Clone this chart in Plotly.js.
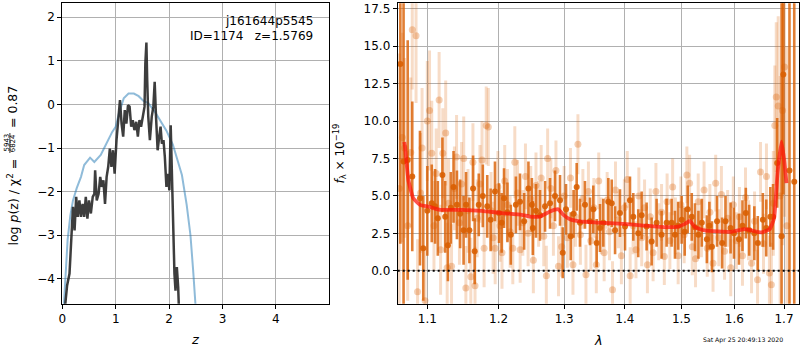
<!DOCTYPE html>
<html>
<head>
<meta charset="utf-8">
<script src="https://cdn.plot.ly/plotly-3.0.1.min.js"></script>
<style>html,body{margin:0;padding:0;background:#fff;}#chart{width:800px;height:350px;}</style>
</head>
<body>
<div id="chart"></div>
<script>
// ---------- left panel: redshift PDF ----------
const pzZ = [0.03,0.09,0.135,0.17,0.2,0.23,0.26,0.29,0.32,0.35,0.38,0.41,0.44,0.47,0.5,0.535,0.57,0.6,0.615,0.645,
  0.68,0.71,0.74,0.77,0.8,0.83,0.86,0.89,0.92,0.95,0.98,1.015,1.05,1.08,1.11,1.14,1.17,1.2,1.23,1.26,
  1.29,1.32,1.35,1.385,1.415,1.445,1.475,1.51,1.54,1.555,1.575,1.59,1.61,1.64,1.675,1.705,1.73,1.755,1.785,1.815,
  1.84,1.865,1.895,1.92,1.95,1.98,2.005,2.03,2.05,2.075,2.1,2.12,2.145,2.17,2.19];
const pzLog = [-4.9,-4.15,-3.88,-3.12,-2.35,-2.89,-2.12,-2.58,-2.2,-2.58,-2.28,-2.58,-2.12,-2.62,-2.2,-2.5,-2.12,-2.05,-1.51,-2.2,
  -2.05,-1.66,-1.89,-1.74,-2.28,-1.66,-1.43,-1.01,-1.43,-1.05,-1.59,-0.82,-0.21,0.1,-0.44,-0.74,-0.13,-0.44,-0.02,-0.05,
  -0.51,-0.36,-0.59,-0.4,-0.74,-0.36,-0.51,-0.28,-0.05,0.94,1.42,0.56,-0.28,-0.82,-0.28,-0.05,0.52,-0.28,-1.05,-0.74,
  -0.51,-0.9,-0.82,-1.2,-1.89,-1.59,-1.97,-0.48,-1.59,-2.97,-3.88,-4.27,-3.73,-4.19,-4.9];

const fitZ = [0.02,0.06,0.1,0.15,0.2,0.27,0.35,0.41,0.52,0.6,0.66,0.72,0.78,0.87,0.935,1.0,1.06,1.15,1.24,1.34,
  1.43,1.52,1.61,1.735,1.83,1.95,2.07,2.17,2.24,2.33,2.4,2.45,2.5];
const fitLog = [-4.8,-3.9,-3.1,-2.55,-2.2,-1.92,-1.66,-1.39,-1.22,-1.32,-1.24,-1.16,-1.01,-0.78,-0.63,-0.51,-0.21,0.14,0.25,0.25,
  0.19,0.08,0.03,-0.17,-0.36,-0.6,-0.92,-1.3,-1.62,-2.31,-3.0,-3.8,-4.7];

const zTicks = [0,1,2,3,4];
const fitLabel = ['j161644p5545', 'ID=1174\u00a0\u00a0\u00a0z=1.5769'];
const chi2Num = '5943', chi2Den = '6824', chi2Val = '0.87';

// ---------- right panel: spectrum ----------
const lamDark = [1.0644,1.0686,1.0740,1.0800,1.0902,1.0946,1.1000,1.1060,1.1105,1.1142,
  1.1205,1.1243,1.1280,1.1320,1.1358,1.1405,1.1450,1.1498,1.1533,1.1580,
  1.1632,1.1655,1.1713,1.1771,1.1835,1.1884,1.1947,1.2006,1.2045,1.2080,
  1.2130,1.2180,1.2256,1.2318,1.2380,1.2445,1.2497,1.2512,1.2560,1.2622,
  1.2700,1.2777,1.2855,1.2934,1.2977,1.3029,1.3104,1.3150,1.3200,1.3253,
  1.3334,1.3416,1.3470,1.3526,1.3581,1.3636,1.3720,1.3777,1.3833,1.3916,
  1.4002,1.4087,1.4144,1.4230,1.4289,1.4376,1.4464,1.4552,1.4641,1.4731,
  1.4821,1.4882,1.4940,1.5004,1.5060,1.5115,1.5190,1.5250,1.5314,1.5378,
  1.5473,1.5520,1.5569,1.5666,1.5763,1.5828,1.5927,1.5993,1.6092,1.6160,
  1.6226,1.6293,1.6395,1.6465,1.6567,1.6636,1.6719,1.6775,1.6859,1.6950,
  1.6986,1.7114,1.7214];
const fluxDark = [13.8,7.3,7.4,6.3,4.85,1.5,4.0,4.5,4.3,3.5,
  6.4,3.6,1.7,4.2,5.6,4.4,3.8,2.7,4.4,2.7,
  5.5,1.3,4.4,5.0,4.3,3.4,5.3,3.85,3.2,4.85,
  3.9,2.4,4.4,4.6,3.3,5.5,4.4,2.85,4.0,3.7,
  4.3,4.5,5.0,4.7,1.2,4.1,2.3,3.8,5.6,3.2,
  4.4,3.3,4.1,1.85,2.85,3.2,4.6,4.5,2.7,3.85,
  2.95,4.7,3.6,2.5,3.7,2.95,1.95,3.2,2.4,3.2,
  3.2,2.4,3.0,3.4,2.6,4.1,3.6,2.9,2.4,3.2,
  2.1,3.0,1.6,3.3,1.85,3.3,2.85,2.5,2.1,3.0,
  3.85,2.7,2.5,1.85,3.4,2.85,3.6,3.6,7.2,2.3,
  13.1,6.7,5.95];
const errDark = [12,14,8,5,4.5,3.5,3,2.6,2.5,2.5,
  2.5,2.4,2.4,2.4,2.4,2.3,2.3,2.3,2.2,2.2,
  2.2,2.2,2.1,2.1,2.1,2.1,2.0,2.0,2.0,2.0,
  2.0,2.0,1.9,1.9,1.9,1.8,1.8,1.8,1.8,1.7,
  1.7,1.7,1.7,1.7,1.7,1.7,1.6,1.6,1.6,1.6,
  1.6,1.6,1.6,1.6,1.6,1.6,1.6,1.6,1.6,1.6,
  1.6,1.6,1.6,1.6,1.6,1.6,1.6,1.6,1.6,1.6,
  1.6,1.6,1.6,1.6,1.6,1.6,1.6,1.6,1.6,1.6,
  1.6,1.6,1.7,1.7,1.7,1.7,1.7,1.7,1.7,1.7,
  1.7,1.7,1.8,1.8,1.8,1.9,2.0,2.2,3.0,25,
  8,25,25];

const lamLight = [1.063,1.067,1.070,1.074,1.078,1.080,1.085,1.087,1.091,1.093,
  1.097,1.100,1.103,1.106,1.109,1.112,1.116,1.118,1.121,1.125,
  1.127,1.129,1.133,1.137,1.140,1.144,1.147,1.150,1.153,1.156,
  1.160,1.163,1.166,1.169,1.173,1.176,1.179,1.182,1.185,1.189,
  1.192,1.195,1.199,1.202,1.205,1.209,1.213,1.217,1.221,1.224,
  1.228,1.232,1.236,1.240,1.244,1.248,1.252,1.256,1.260,1.264,
  1.268,1.272,1.274,1.279,1.283,1.287,1.291,1.296,1.300,1.305,
  1.310,1.314,1.318,1.322,1.326,1.330,1.335,1.339,1.343,1.348,
  1.352,1.356,1.360,1.365,1.370,1.374,1.379,1.384,1.389,1.394,
  1.399,1.404,1.409,1.414,1.419,1.424,1.429,1.434,1.439,1.444,
  1.449,1.454,1.459,1.464,1.469,1.474,1.479,1.484,1.489,1.494,
  1.499,1.505,1.510,1.515,1.520,1.526,1.531,1.537,1.542,1.548,
  1.553,1.559,1.564,1.570,1.575,1.581,1.587,1.593,1.598,1.604,
  1.610,1.616,1.622,1.628,1.634,1.640,1.646,1.652,1.658,1.664,
  1.670,1.674,1.678,1.681,1.684,1.688,1.692,1.697,1.701,1.706];
const fluxLight = [5.5,8.9,8.2,3.0,7.9,16.1,15.7,-1.4,5.2,8.2,
  -2.0,10.0,10.7,7.85,3.0,6.5,11.4,1.4,7.85,9.2,
  0.2,4.5,0.3,5.5,7.6,3.2,5.8,7.5,-1.15,4.0,
  -0.4,7.25,-1.0,3.5,5.8,7.4,1.5,9.7,9.6,4.0,
  2.2,1.5,5.6,3.0,1.2,6.0,4.4,2.6,1.5,7.25,
  5.2,1.4,3.2,6.3,2.5,4.8,0.7,5.7,3.8,6.2,
  2.3,-0.33,7.5,5.5,3.0,6.7,0.3,1.6,5.0,2.2,
  6.2,0.4,3.6,8.45,2.4,4.8,-0.27,5.3,2.0,4.2,
  0.4,6.0,3.0,1.2,4.7,2.6,-1.27,5.4,3.4,1.0,
  4.2,6.1,-0.33,3.0,1.4,5.0,2.2,4.2,0.4,3.6,
  1.2,5.3,2.6,3.9,0.95,4.6,2.0,5.6,3.0,1.0,
  4.4,2.4,6.4,5.85,1.6,0.8,4.6,2.8,5.4,1.5,
  3.9,0.5,5.85,2.2,5.1,1.3,3.5,0.2,4.4,2.0,
  3.6,1.0,4.9,2.7,0.5,3.3,-0.6,6.6,1.8,6.3,
  -0.15,-0.93,4.5,9.7,11.6,11.0,5.0,10.7,13.6,3.0];
const errLight = [9,7,6,5,5,4,4.5,3.5,4,4,
  3.5,4,4,3.5,3,3,3.2,3,3,3.5,
  3,3,2.8,2.8,2.8,2.8,2.8,2.8,2.8,2.8,
  2.6,2.6,2.6,2.6,2.6,2.6,2.6,2.6,2.6,2.6,
  2.4,2.4,2.4,2.4,2.4,2.4,2.4,2.4,2.4,2.4,
  2.2,2.2,2.2,2.2,2.2,2.2,2.2,2.2,2.2,2.2,
  2.0,2.0,2.0,2.0,2.0,2.0,2.0,2.0,2.0,2.0,
  2.0,2.0,2.0,2.0,2.0,2.0,2.0,2.0,2.0,2.0,
  1.9,1.9,1.9,1.9,1.9,1.9,1.9,1.9,1.9,1.9,
  1.9,1.9,1.9,1.9,1.9,1.9,1.9,1.9,1.9,1.9,
  1.9,1.9,1.9,1.9,1.9,1.9,1.9,1.9,1.9,1.9,
  1.9,1.9,1.9,1.9,1.9,1.9,1.9,1.9,1.9,1.9,
  1.9,1.9,1.9,1.9,1.9,1.9,1.9,1.9,1.9,1.9,
  2.0,2.0,2.0,2.0,2.0,2.0,2.0,2.0,2.0,2.2,
  2.5,2.8,3.5,4,5,6,8,9,10,12];

const lamModel = [1.0695,1.0705,1.0748,1.0813,1.0902,1.1014,1.1172,1.1472,1.1755,1.2045,
  1.2343,1.2469,1.2622,1.2777,1.2907,1.2987,1.3092,1.3253,1.3524,1.3971,
  1.4317,1.4731,1.4941,1.5064,1.5156,1.5249,1.5433,1.5944,1.6205,1.6338,
  1.6539,1.6708,1.6796,1.6866,1.6948,1.7003,1.7052];
const fluxModel = [8.6,8.3,6.07,4.85,4.4,4.29,4.07,4.07,4.0,3.85,
  3.73,3.62,3.62,3.96,4.11,3.73,3.44,3.29,3.22,3.13,
  3.02,2.91,2.95,3.13,3.33,2.91,2.69,2.6,2.78,2.69,
  2.56,2.78,3.51,6.51,8.62,7.4,5.85];

const lamTicks = [1.1,1.2,1.3,1.4,1.5,1.6,1.7];
const lamTickText = ['1.1','1.2','1.3','1.4','1.5','1.6','1.7'];
const fluxTicks = [0,2.5,5,7.5,10,12.5,15,17.5];
const stamp = 'Sat Apr 25 20:49:13 2020';

// ---------- layout helpers ----------
const W = 800, H = 350;
const px = x => x / W;
const py = y => (H - y) / H;
const FONT = 'DejaVu Sans, sans-serif';
const ORANGE = '217,95,2';

const axisCommon = {
  showline: true, mirror: true, linecolor: '#000', linewidth: 1,
  ticks: 'outside', ticklen: 4, tickwidth: 1, tickcolor: '#000',
  showgrid: true, gridcolor: '#b0b0b0', gridwidth: 1, zeroline: false,
  tickfont: {family: FONT, size: 12, color: '#000'}
};

const traces = [
  {x: fitZ, y: fitLog, xaxis: 'x', yaxis: 'y', mode: 'lines',
   line: {color: 'rgba(31,119,180,0.5)', width: 2}, hoverinfo: 'skip'},
  {x: pzZ, y: pzLog, xaxis: 'x', yaxis: 'y', mode: 'lines',
   line: {color: 'rgba(40,40,40,0.9)', width: 2.5}, hoverinfo: 'skip'},
  {x: lamLight, y: fluxLight, xaxis: 'x2', yaxis: 'y2', mode: 'markers',
   marker: {color: `rgba(${ORANGE},0.3)`, size: 7},
   error_y: {type: 'data', array: errLight, visible: true, thickness: 3, width: 0, color: `rgba(${ORANGE},0.22)`},
   hoverinfo: 'skip'},
  {x: lamDark, y: fluxDark, xaxis: 'x2', yaxis: 'y2', mode: 'markers',
   marker: {color: `rgba(${ORANGE},0.9)`, size: 6},
   error_y: {type: 'data', array: errDark, visible: true, thickness: 2.6, width: 0, color: `rgba(${ORANGE},0.8)`},
   hoverinfo: 'skip'},
  {x: lamModel, y: fluxModel, xaxis: 'x2', yaxis: 'y2', mode: 'lines',
   line: {color: 'rgba(255,20,10,0.72)', width: 3.8, shape: 'spline', smoothing: 0.4}, hoverinfo: 'skip'}
];

const plotDomainY = [py(303.7), py(3.3)];

const layout = {
  width: W, height: H, margin: {l: 0, r: 0, t: 0, b: 0}, autosize: false,
  paper_bgcolor: '#fff', plot_bgcolor: '#fff', showlegend: false,
  font: {family: FONT, size: 12, color: '#000'},
  xaxis: Object.assign({}, axisCommon, {domain: [px(62.3), px(329.3)], range: [0, 5], tickvals: zTicks, anchor: 'y'}),
  yaxis: Object.assign({}, axisCommon, {domain: plotDomainY, range: [-4.57, 2.32], dtick: 1, anchor: 'x'}),
  xaxis2: Object.assign({}, axisCommon, {domain: [px(397.7), px(799.3)], type: 'log',
    range: [0.025705, 0.238558], tickvals: lamTicks, ticktext: lamTickText, anchor: 'y2'}),
  yaxis2: Object.assign({}, axisCommon, {domain: plotDomainY, range: [-2.2, 17.86],
    tickvals: fluxTicks, tickformat: '.1f', anchor: 'x2'}),
  shapes: [
    {type: 'line', xref: 'x2 domain', yref: 'y2', x0: 0, x1: 1, y0: 0, y1: 0,
     line: {color: '#000', width: 2, dash: '2px,3px'}, layer: 'above'},
    {type: 'line', xref: 'paper', yref: 'paper', x0: px(9.9), x1: px(9.9), y0: py(153), y1: py(133),
     line: {color: '#000', width: 0.8}}
  ],
  annotations: [
    {text: fitLabel[0], xref: 'paper', yref: 'paper', x: px(315), y: py(20.5), xanchor: 'right', yanchor: 'middle',
     showarrow: false, font: {family: FONT, size: 12, color: '#000'}},
    {text: fitLabel[1], xref: 'paper', yref: 'paper', x: px(315), y: py(36), xanchor: 'right', yanchor: 'middle',
     showarrow: false, font: {family: FONT, size: 12, color: '#000'}},
    {text: '<i>z</i>', xref: 'paper', yref: 'paper', x: px(195.8), y: py(339.5), xanchor: 'center', yanchor: 'middle',
     showarrow: false, font: {family: FONT, size: 13, color: '#000'}},
    {text: '<i>λ</i>', xref: 'paper', yref: 'paper', x: px(598), y: py(340), xanchor: 'center', yanchor: 'middle',
     showarrow: false, font: {family: FONT, size: 13, color: '#000'}},
    {text: '<i>f</i><sub>λ</sub> × 10<sup>−19</sup>', xref: 'paper', yref: 'paper', x: px(339), y: py(153.5),
     xanchor: 'center', yanchor: 'middle', textangle: -90, showarrow: false, font: {family: FONT, size: 12, color: '#000'}},
    {text: 'log <i>p</i>(z) / χ<sup>2</sup> =', xref: 'paper', yref: 'paper', x: px(12), y: py(248),
     xanchor: 'center', yanchor: 'bottom', textangle: -90, showarrow: false, font: {family: FONT, size: 12.5, color: '#000'}},
    {text: chi2Num, xref: 'paper', yref: 'paper', x: px(6.5), y: py(143), xanchor: 'center', yanchor: 'middle',
     textangle: -90, showarrow: false, font: {family: FONT, size: 7, color: '#000'}},
    {text: chi2Den, xref: 'paper', yref: 'paper', x: px(13.3), y: py(143), xanchor: 'center', yanchor: 'middle',
     textangle: -90, showarrow: false, font: {family: FONT, size: 7, color: '#000'}},
    {text: '= ' + chi2Val, xref: 'paper', yref: 'paper', x: px(12), y: py(130),
     xanchor: 'center', yanchor: 'bottom', textangle: -90, showarrow: false, font: {family: FONT, size: 12.5, color: '#000'}},
    {text: stamp, xref: 'paper', yref: 'paper', x: px(743), y: py(339.5), xanchor: 'center', yanchor: 'middle',
     showarrow: false, font: {family: FONT, size: 6.2, color: '#000'}}
  ]
};

Plotly.newPlot('chart', traces, layout, {staticPlot: true, displayModeBar: false});
</script>
</body>
</html>
